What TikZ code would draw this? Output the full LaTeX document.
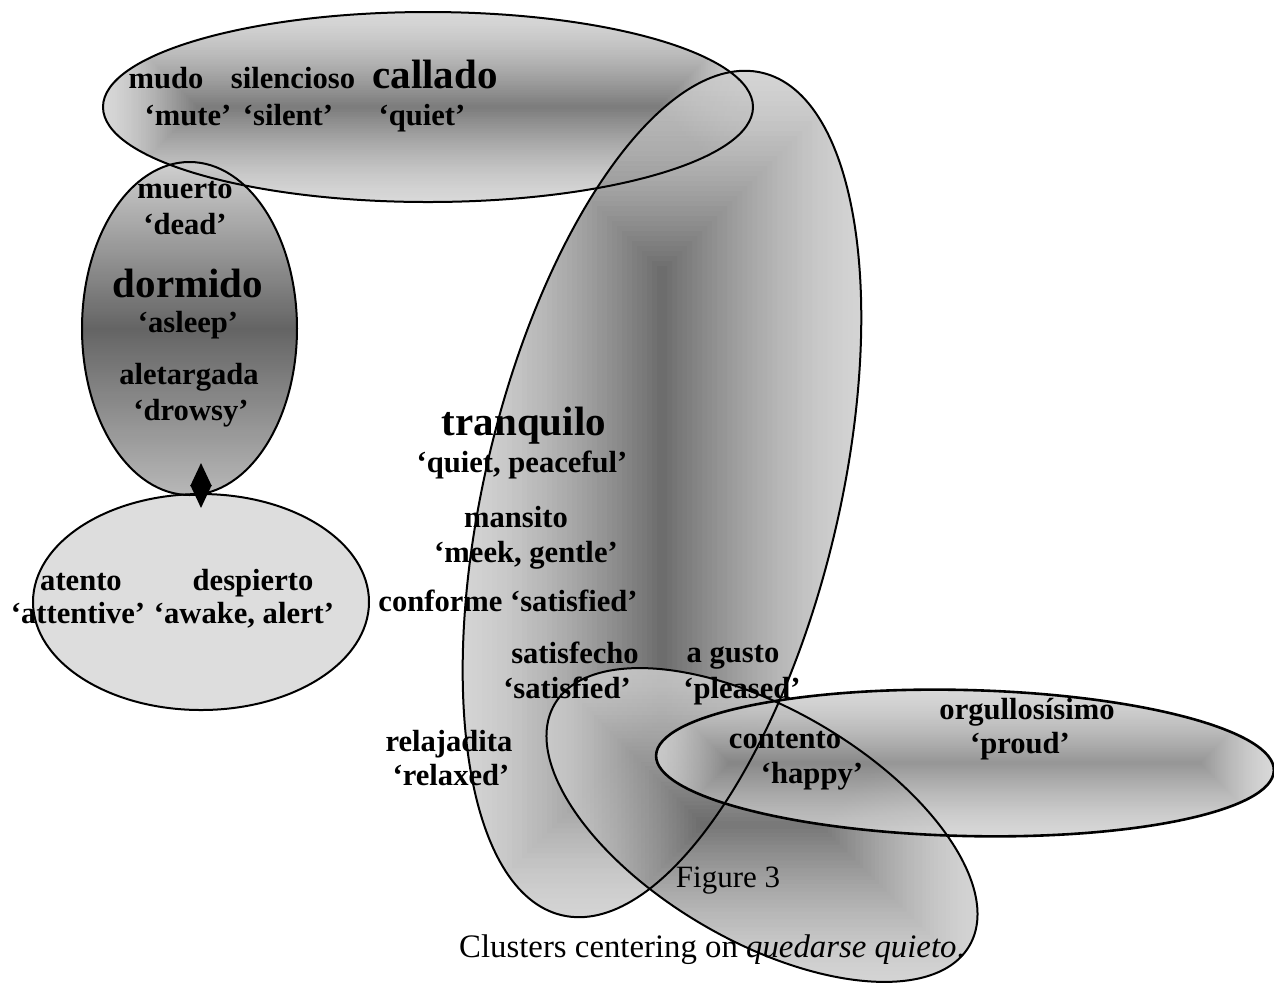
\documentclass[tikz,border=0pt]{standalone}
\usepackage{fontspec}
\setmainfont{Liberation Serif}
\usetikzlibrary{arrows.meta}

% box (rectangular, from centre) gradient: x1 y1 x2 y2 light dark maxinset
\newcommand\boxshade[7]{%
  \foreach \i in {0,...,39}{%
    \pgfmathsetmacro\dd{#7*\i/40}%
    \pgfmathsetmacro\gg{#5-(#5-#6)*((\i/39)^1.4)}%
    \definecolor{bsh}{gray}{\gg}%
    \fill[bsh] ({#1+\dd},{#2+\dd}) rectangle ({#3-\dd},{#4-\dd});
  }}

\tikzset{
  lbl/.style={font=\bfseries\fontsize{15.3}{18}\selectfont, anchor=base, inner sep=0pt},
  biglbl/.style={font=\bfseries\fontsize{20.5}{24}\selectfont, anchor=base, inner sep=0pt},
  capt/.style={font=\fontsize{15.5}{18}\selectfont, anchor=base, inner sep=0pt},
  capt2/.style={font=\fontsize{16.4}{19}\selectfont, anchor=base, inner sep=0pt},
  rim/.style={draw=black, line width=1pt},
  grp/.style={transparency group, opacity=0.85},
}

\begin{document}
\begin{tikzpicture}[x=0.5pt,y=-0.5pt]
\useasboundingbox (0,0) rectangle (1274,993);

% centres
\coordinate (cTop) at (428,107);
\coordinate (cTall) at (662,494);
\coordinate (cLow) at (762,825);
\coordinate (cOrg) at (965,763);
\coordinate (cDor) at (189.5,328.5);
\coordinate (cAwk) at (201,602);

% top ellipse (mudo / silencioso / callado)
\begin{scope}[grp]
  \clip (cTop) ellipse [x radius=162.5pt, y radius=47.5pt];
  \boxshade{103}{12}{753}{202}{0.82}{0.40}{95}
\end{scope}

% tall tilted ellipse (tranquilo)
\begin{scope}[grp]
  \clip[rotate around={-13.4:(cTall)}] (cTall) ellipse [x radius=88.5pt, y radius=216.5pt];
  \boxshade{462}{71}{862}{918}{0.80}{0.33}{200}
\end{scope}

% lower tilted ellipse (contento)
\begin{scope}[grp]
  \clip[rotate around={-30.2:(cLow)}] (cLow) ellipse [x radius=120pt, y radius=58pt];
  \boxshade{547}{668}{977}{982}{0.80}{0.38}{157}
\end{scope}

% orgullosisimo ellipse
\begin{scope}[grp]
  \clip[rotate around={-1.4:(cOrg)}] (cOrg) ellipse [x radius=154.5pt, y radius=36.5pt];
  \boxshade{656}{689}{1274}{837}{0.82}{0.52}{74}
\end{scope}

% dormido ellipse
\shade[top color={rgb,255:red,205;green,205;blue,205}, bottom color={rgb,255:red,180;green,180;blue,180},
       middle color={rgb,255:red,92;green,92;blue,92}, opacity=0.95]
  (cDor) ellipse [x radius=53.75pt, y radius=83.25pt];

% awake ellipse
\fill[fill={rgb,255:red,221;green,221;blue,221}] (cAwk) ellipse [x radius=84pt, y radius=54pt];

% outlines
\draw[rim] (cTop) ellipse [x radius=162.5pt, y radius=47.5pt];
\draw[rim, rotate around={-13.4:(cTall)}] (cTall) ellipse [x radius=88.5pt, y radius=216.5pt];
\draw[rim, rotate around={-30.2:(cLow)}] (cLow) ellipse [x radius=120pt, y radius=58pt];
\draw[rim, line width=1.3pt, rotate around={-1.4:(cOrg)}] (cOrg) ellipse [x radius=154.5pt, y radius=36.5pt];
\draw[rim] (cDor) ellipse [x radius=53.75pt, y radius=83.25pt];
\draw[rim] (cAwk) ellipse [x radius=84pt, y radius=54pt];

% double arrow between dormido and awake clusters
\coordinate (arrTop) at (201,463);
\coordinate (arrBot) at (201,508);
\draw[line width=1pt, {Triangle[length=11.5pt,width=10.5pt]}-{Triangle[length=11.5pt,width=10.5pt]}] (arrTop) -- (arrBot);

% labels: top cluster
\node[lbl] (mudo) at (166,88) {mudo};
\node[lbl] (silencioso) at (293,88) {silencioso};
\node[biglbl] (callado) at (435,88) {callado};
\node[lbl] (mute) at (188,125) {‘mute’};
\node[lbl] (silent) at (288,125) {‘silent’};
\node[lbl] (quiet) at (422,125) {‘quiet’};

% dormido cluster
\node[lbl] (muerto) at (185,198) {muerto};
\node[lbl] (dead) at (185,234) {‘dead’};
\node[biglbl] (dormido) at (188,297) {dormido};
\node[lbl] (asleep) at (188,332) {‘asleep’};
\node[lbl] (aletargada) at (189,384) {aletargada};
\node[lbl] (drowsy) at (191,420) {‘drowsy’};

% awake cluster
\node[lbl] (atento) at (81,590) {atento};
\node[lbl] (despierto) at (253,590) {despierto};
\node[lbl] (attentive) at (78,623) {‘attentive’};
\node[lbl] (awake) at (244,623) {‘awake, alert’};

% tranquilo cluster
\node[biglbl] (tranquilo) at (524,435) {tranquilo};
\node[lbl] (peaceful) at (522,472) {‘quiet, peaceful’};
\node[lbl] (mansito) at (516,527) {mansito};
\node[lbl] (meek) at (526,562) {‘meek, gentle’};
\node[lbl] (conforme) at (508,611) {conforme ‘satisfied’};
\node[lbl] (satisfecho) at (575,663) {satisfecho};
\node[lbl] (satisfied) at (567,698) {‘satisfied’};
\node[lbl] (agusto) at (733,662) {a gusto};
\node[lbl] (pleased) at (742,698) {‘pleased’};
\node[lbl] (relajadita) at (449,751) {relajadita};
\node[lbl] (relaxed) at (451,785) {‘relaxed’};

% contento / orgullo
\node[lbl] (orgullo) at (1027,719) {orgullosísimo};
\node[lbl] (proud) at (1020,753) {‘proud’};
\node[lbl] (contento) at (785,748) {contento};
\node[lbl] (happy) at (812,783) {‘happy’};

% caption
\node[capt] (fig) at (728,887) {Figure 3};
\node[capt2] (caption) at (712,957) {Clusters centering on \textit{quedarse quieto}.};
\end{tikzpicture}
\end{document}
